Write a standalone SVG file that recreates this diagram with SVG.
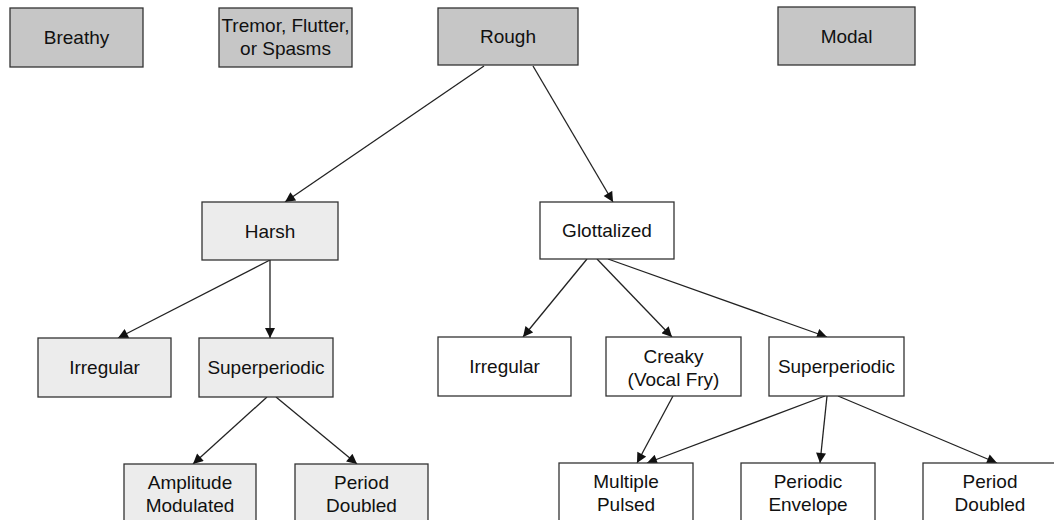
<svg xmlns="http://www.w3.org/2000/svg" width="1054" height="520" viewBox="0 0 1054 520">
<style>
.box{stroke:#333;stroke-width:1.3}
.dark{fill:#c6c6c6}
.light{fill:#ececec}
.white{fill:#fff}
text{font-family:"Liberation Sans",Arial,sans-serif;font-size:19px;fill:#111;text-anchor:middle}
.edge{stroke:#222;stroke-width:1.3;fill:none;marker-end:url(#arr)}
</style>
<defs>
<marker id="arr" viewBox="0 0 10 10" refX="10" refY="5" markerWidth="11" markerHeight="10" markerUnits="userSpaceOnUse" orient="auto">
<path d="M0,0 L10,5 L0,10 z" fill="#111"/>
</marker>
</defs>
<rect width="1054" height="520" fill="#fff"/>
<g id="connectors">
<line class="edge" x1="484" y1="66" x2="285" y2="202"/>
<line class="edge" x1="533" y1="66" x2="613" y2="202"/>
<line class="edge" x1="270" y1="260" x2="118" y2="338"/>
<line class="edge" x1="270" y1="260" x2="270" y2="338"/>
<line class="edge" x1="587" y1="259" x2="523" y2="337"/>
<line class="edge" x1="597" y1="259" x2="672" y2="337"/>
<line class="edge" x1="608" y1="259" x2="827" y2="337"/>
<line class="edge" x1="267" y1="397" x2="193" y2="464"/>
<line class="edge" x1="276" y1="397" x2="357" y2="464"/>
<line class="edge" x1="673" y1="396" x2="637" y2="463"/>
<line class="edge" x1="825" y1="396" x2="647" y2="463"/>
<line class="edge" x1="827" y1="396" x2="820" y2="463"/>
<line class="edge" x1="838" y1="396" x2="997" y2="463"/>
</g>
<g id="breathy"><rect class="box dark" x="10" y="8" width="133" height="59"/><text x="76.5" y="44">Breathy</text></g>
<g id="tremor"><rect class="box dark" x="219" y="8" width="133" height="59"/><text x="285.5" y="32">Tremor, Flutter,</text><text x="285.5" y="55">or Spasms</text></g>
<g id="rough"><rect class="box dark" x="438" y="8" width="140" height="57"/><text x="508" y="43">Rough</text></g>
<g id="modal"><rect class="box dark" x="778" y="7" width="137" height="58"/><text x="846.5" y="43">Modal</text></g>
<g id="harsh"><rect class="box light" x="202" y="202" width="136" height="58"/><text x="270" y="238">Harsh</text></g>
<g id="glottalized"><rect class="box white" x="540" y="202" width="134" height="57"/><text x="607" y="237">Glottalized</text></g>
<g id="irregular1"><rect class="box light" x="38" y="338" width="133" height="59"/><text x="104.5" y="374">Irregular</text></g>
<g id="superperiodic1"><rect class="box light" x="199" y="338" width="134" height="59"/><text x="266" y="374">Superperiodic</text></g>
<g id="irregular2"><rect class="box white" x="438" y="337" width="133" height="59"/><text x="504.5" y="373">Irregular</text></g>
<g id="creaky"><rect class="box white" x="606" y="337" width="135" height="59"/><text x="673.5" y="363">Creaky</text><text x="673.5" y="386">(Vocal Fry)</text></g>
<g id="superperiodic2"><rect class="box white" x="769" y="337" width="135" height="59"/><text x="836.5" y="373">Superperiodic</text></g>
<g id="amplitude"><rect class="box light" x="124" y="464" width="132" height="60"/><text x="190" y="489">Amplitude</text><text x="190" y="512">Modulated</text></g>
<g id="perioddoubled1"><rect class="box light" x="295" y="464" width="133" height="60"/><text x="361.5" y="489">Period</text><text x="361.5" y="512">Doubled</text></g>
<g id="multiplepulsed"><rect class="box white" x="559" y="463" width="134" height="60"/><text x="626" y="488">Multiple</text><text x="626" y="511">Pulsed</text></g>
<g id="periodicenvelope"><rect class="box white" x="741" y="463" width="134" height="60"/><text x="808" y="488">Periodic</text><text x="808" y="511">Envelope</text></g>
<g id="perioddoubled2"><rect class="box white" x="923" y="463" width="135" height="60"/><text x="990" y="488">Period</text><text x="990" y="511">Doubled</text></g>
</svg>
